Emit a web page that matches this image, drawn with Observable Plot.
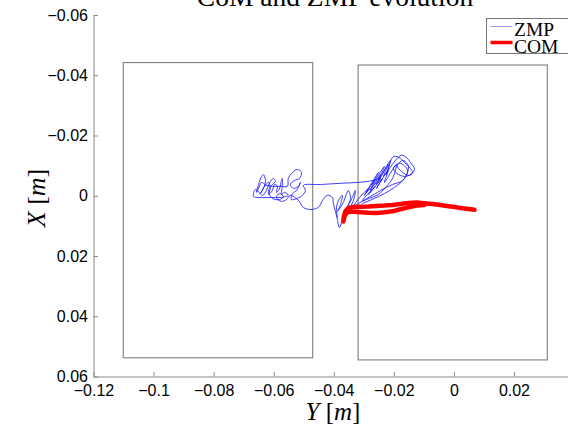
<!DOCTYPE html>
<html>
<head>
<meta charset="utf-8">
<script src="https://cdn.jsdelivr.net/npm/d3@7"></script>
<script src="https://cdn.jsdelivr.net/npm/@observablehq/plot@0.6"></script>
<style>
  html, body { margin: 0; padding: 0; background: #fff; overflow: hidden; }
</style>
</head>
<body>
<div id="chart"></div>
<script>
// Tick values for the two axes
const yTicks = [-0.12, -0.1, -0.08, -0.06, -0.04, -0.02, 0, 0.02];   // horizontal: lateral Y [m]
const xTicks = [-0.06, -0.04, -0.02, 0, 0.02, 0.04, 0.06];           // vertical: forward X [m]

// Foot support rectangles (left foot, right foot)
const footYmin = [-0.1101, -0.0319];
const footYmax = [-0.0470, 0.0311];
const footXmin = [-0.0442, -0.0434];
const footXmax = [0.0538, 0.0545];

// Zero moment point trajectory
const zmpY = [
  -0.0389, -0.0393, -0.0386, -0.0373, -0.0379, -0.0389, -0.0370, -0.0360, -0.0353, -0.0346,
  -0.0356, -0.0340, -0.0330, -0.0336, -0.0373, -0.0383, -0.0389, -0.0396, -0.0403, -0.0406,
  -0.0423, -0.0439, -0.0453, -0.0479, -0.0503, -0.0519, -0.0546,
  -0.0559, -0.0576, -0.0593, -0.0583, -0.0569, -0.0583, -0.0606, -0.0619, -0.0609, -0.0596,
  -0.0603, -0.0616, -0.0626, -0.0639, -0.0662, -0.0669, -0.0652, -0.0613, -0.0579,
  -0.0553, -0.0566, -0.0576, -0.0573, -0.0573, -0.0576, -0.0583, -0.0593, -0.0589, -0.0599,
  -0.0606, -0.0619, -0.0613, -0.0619, -0.0632, -0.0646, -0.0636, -0.0629, -0.0636, -0.0642,
  -0.0652, -0.0659, -0.0652, -0.0642, -0.0626, -0.0606, -0.0579, -0.0556, -0.0553, -0.0539,
  -0.0523, -0.0509, -0.0516, -0.0533, -0.0546, -0.0536, -0.0519, -0.0513, -0.0526, -0.0539,
  -0.0543, -0.0523, -0.0506, -0.0496, -0.0503,
  -0.0446, -0.0379, -0.0320, -0.0273,
  -0.0246, -0.0273, -0.0293, -0.0253, -0.0273, -0.0233, -0.0253, -0.0213, -0.0226, -0.0203,
  -0.0180, -0.0166, -0.0146, -0.0140, -0.0160, -0.0186, -0.0203, -0.0180, -0.0156, -0.0173,
  -0.0206, -0.0246, -0.0280, -0.0306, -0.0263, -0.0286, -0.0240, -0.0260, -0.0220, -0.0233,
  -0.0193, -0.0206, -0.0226, -0.0253, -0.0293, -0.0320, -0.0336,
  -0.0313, -0.0286, -0.0300, -0.0266, -0.0280, -0.0246, -0.0260, -0.0220, -0.0236, -0.0196,
  -0.0176, -0.0160, -0.0146, -0.0133, -0.0150, -0.0176, -0.0190, -0.0170, -0.0153, -0.0166,
  -0.0200, -0.0233, -0.0266, -0.0306
];
const zmpX = [
   0.0070,  0.0044,  0.0014, -0.0003,  0.0027,  0.0050,  0.0021, -0.0006, -0.0019,  0.0007,
   0.0034,  0.0004, -0.0019,  0.0014,  0.0080,  0.0104,  0.0080,  0.0050,  0.0024,  0.0004,
  -0.0003,  0.0014,  0.0037,  0.0044,  0.0037,  0.0014, -0.0003,
   0.0011,  0.0017,  0.0004, -0.0009,  0.0001,  0.0011,  0.0007, -0.0016, -0.0036, -0.0049,
  -0.0059, -0.0043, -0.0019, -0.0003, -0.0023,  0.0001,  0.0004,  0.0004,  0.0004,
  -0.0003, -0.0013, -0.0006, -0.0033, -0.0059, -0.0052, -0.0023, -0.0013, -0.0033, -0.0039,
  -0.0019, -0.0006, -0.0026, -0.0046, -0.0033, -0.0009, -0.0026, -0.0052, -0.0072, -0.0066,
  -0.0039, -0.0013, -0.0026, -0.0046, -0.0036, -0.0033, -0.0033, -0.0033, -0.0059, -0.0079,
  -0.0089, -0.0079, -0.0059, -0.0052, -0.0039, -0.0026, -0.0033, -0.0046, -0.0019, -0.0009,
   0.0011,  0.0007, -0.0003, -0.0019, -0.0036,
  -0.0039, -0.0043, -0.0046, -0.0052,
  -0.0059, -0.0033, -0.0013, -0.0079, -0.0039, -0.0099, -0.0052, -0.0119, -0.0072, -0.0132,
  -0.0126, -0.0112, -0.0092, -0.0079, -0.0066, -0.0072, -0.0092, -0.0109, -0.0086, -0.0052,
  -0.0039, -0.0019,  0.0001,  0.0014, -0.0033, -0.0006, -0.0059, -0.0026, -0.0086, -0.0046,
  -0.0106, -0.0059, -0.0033, -0.0006,  0.0011,  0.0024,  0.0034,
   0.0001, -0.0026, -0.0003, -0.0052, -0.0019, -0.0072, -0.0039, -0.0106, -0.0066, -0.0119,
  -0.0136, -0.0129, -0.0112, -0.0089, -0.0069, -0.0082, -0.0102, -0.0119, -0.0099, -0.0059,
  -0.0029, -0.0009,  0.0007,  0.0024
];

// Centre of mass trajectory
const comY = [
   0.0067,  0.0047,  0.0027,  0.0003, -0.0020, -0.0047, -0.0073, -0.0100, -0.0126, -0.0153,
  -0.0180, -0.0206, -0.0233, -0.0260, -0.0286, -0.0313, -0.0340, -0.0353, -0.0363, -0.0368,
  -0.0370, -0.0365, -0.0356, -0.0340, -0.0313, -0.0286, -0.0260, -0.0233, -0.0206, -0.0180,
  -0.0153, -0.0126, -0.0100
];
const comX = [
   0.0045,  0.0042,  0.0040,  0.0036,  0.0033,  0.0029,  0.0026,  0.0023,  0.0021,  0.0022,
   0.0026,  0.0029,  0.0031,  0.0032,  0.0034,  0.0035,  0.0036,  0.0039,  0.0050,  0.0067,
   0.0084,  0.0064,  0.0053,  0.0051,  0.0053,  0.0055,  0.0056,  0.0053,  0.0050,  0.0043,
   0.0037,  0.0031,  0.0029
];

const feet = footYmin.map((_, i) => ({y0: footYmin[i], y1: footYmax[i], x0: footXmin[i], x1: footXmax[i]}));
const zmp = zmpY.map((y, i) => ({y, x: zmpX[i]}));
const com = comY.map((y, i) => ({y, x: comX[i]}));

const fmt = d => (d < 0 ? "\u2212" : "") + String(Math.abs(d));
const axisGray = "#8a8a8a";

const chart = Plot.plot({
  width: 568,
  height: 424,
  marginLeft: 93.5,
  marginRight: 0,
  marginTop: 15,
  marginBottom: 47.5,
  x: {domain: [-0.12, 0.038]},
  y: {domain: [-0.06, 0.06], reverse: true},
  style: {fontFamily: "'Liberation Sans', Arial, sans-serif", fontSize: "16px", color: "#000", background: "#fff"},
  marks: [
    Plot.rect(feet, {x1: "y0", x2: "y1", y1: "x0", y2: "x1", fill: "none", stroke: "#707070", strokeWidth: 1}),
    Plot.line(zmp, {x: "y", y: "x", stroke: "#1a1aff", strokeWidth: 0.85, curve: "catmull-rom"}),
    Plot.line(com, {x: "y", y: "x", stroke: "#ff0000", strokeWidth: 4.5, strokeLinejoin: "round", strokeLinecap: "round"}),
    Plot.ruleX([-0.12], {stroke: axisGray}),
    Plot.ruleY([0.06], {stroke: axisGray}),
    Plot.tickX(yTicks, {x: d => d, insetTop: 357, stroke: axisGray}),
    Plot.tickY(xTicks, {y: d => d, insetRight: 470, stroke: axisGray}),
    Plot.axisX({ticks: yTicks, tickSize: 0, tickPadding: 8, tickFormat: fmt, label: null}),
    Plot.axisY({ticks: xTicks, tickSize: 0, tickPadding: 6, tickFormat: fmt, label: null})
  ]
});

document.getElementById("chart").append(chart);

// Title, axis labels and legend
const svg = d3.select(chart);
const serif = "'Liberation Serif', 'DejaVu Serif', serif";

svg.append("text")
  .attr("x", 335).attr("y", 6)
  .attr("text-anchor", "middle")
  .attr("font-family", serif).attr("font-size", 27.5)
  .attr("fill", "#000")
  .text("CoM and ZMP evolution");

function mathLabel(sel, sym) {
  sel.append("tspan").attr("font-style", "italic").text(sym);
  sel.append("tspan").text(" [");
  sel.append("tspan").attr("font-style", "italic").text("m");
  sel.append("tspan").text("]");
}

const yl = svg.append("text")
  .attr("x", 333).attr("y", 420)
  .attr("text-anchor", "middle")
  .attr("font-family", serif).attr("font-size", 25)
  .attr("fill", "#000");
mathLabel(yl, "Y");

const xl = svg.append("text")
  .attr("transform", "translate(45,198) rotate(-90)")
  .attr("text-anchor", "middle")
  .attr("font-family", serif).attr("font-size", 26)
  .attr("fill", "#000");
mathLabel(xl, "X");

const lg = svg.append("g");
lg.append("rect")
  .attr("x", 486.5).attr("y", 18.5).attr("width", 100).attr("height", 35)
  .attr("fill", "#fff").attr("stroke", "#777");
lg.append("line")
  .attr("x1", 490.5).attr("x2", 512.5).attr("y1", 26.5).attr("y2", 26.5)
  .attr("stroke", "#1a1aff").attr("stroke-opacity", 0.45).attr("stroke-width", 1);
lg.append("line")
  .attr("x1", 490.5).attr("x2", 512.5).attr("y1", 42.5).attr("y2", 42.5)
  .attr("stroke", "#ff0000").attr("stroke-width", 3.5);
lg.append("text")
  .attr("x", 514).attr("y", 35.5)
  .attr("text-anchor", "start")
  .attr("font-family", serif).attr("font-size", 19.5).attr("fill", "#000")
  .text("ZMP");
lg.append("text")
  .attr("x", 514).attr("y", 52.5)
  .attr("text-anchor", "start")
  .attr("font-family", serif).attr("font-size", 19.5).attr("fill", "#000")
  .text("COM");
</script>
</body>
</html>
